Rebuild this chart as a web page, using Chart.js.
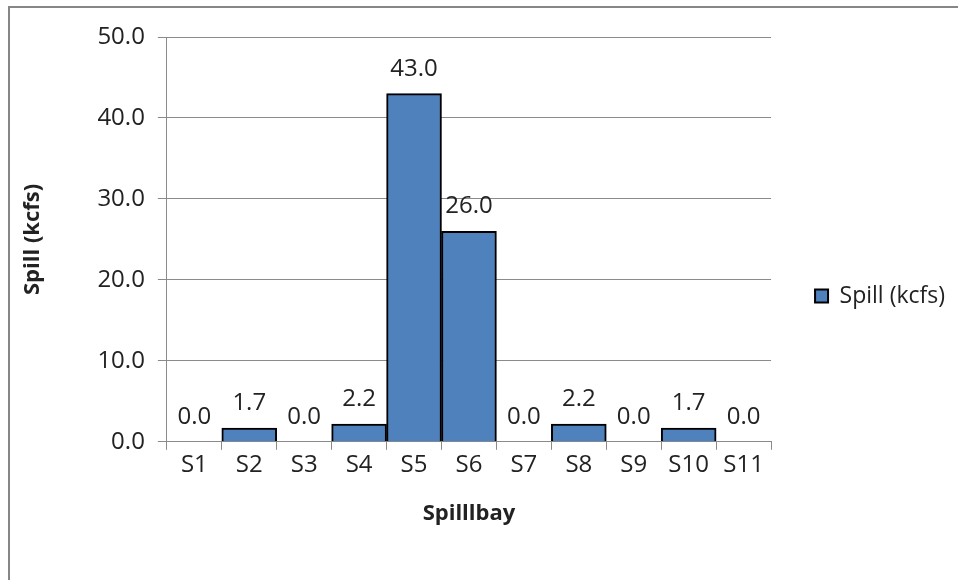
<!DOCTYPE html>
<html>
<head>
<meta charset="utf-8">
<script src="https://cdn.jsdelivr.net/npm/chart.js@4.4.0/dist/chart.umd.min.js"></script>
<style>
  html, body { margin: 0; padding: 0; background: #fff; overflow: hidden; width: 958px; height: 580px; }
  #marco { position: absolute; left: 8px; top: 6px; width: 1000px; height: 700px; border: 2px solid #868686; }
  #grafico { position: absolute; left: 0; top: 0; }
</style>
</head>
<body>
<div id="marco">
  <canvas id="grafico" width="945" height="572"></canvas>
</div>
<script>
// Datos del grafico
const etiquetas = ['S1', 'S2', 'S3', 'S4', 'S5', 'S6', 'S7', 'S8', 'S9', 'S10', 'S11'];
const derrame = [0.0, 1.7, 0.0, 2.2, 43.0, 26.0, 0.0, 2.2, 0.0, 1.7, 0.0];
const nombreSerie = 'Spill (kcfs)';
const tituloX = 'Spilllbay';
const tituloY = 'Spill (kcfs)';

const fuente = 'Open Sans';
const colorTexto = '#222';
const colorGris = '#8a8a8a';

// Plugin para etiquetas de datos sobre las barras
const etiquetasDatos = {
    id: 'etiquetasDatos',
    afterDatasetsDraw(chart) {
        const ctx = chart.ctx;
        const meta = chart.getDatasetMeta(0);
        ctx.save();
        ctx.font = '24px "' + fuente + '"';
        ctx.fillStyle = colorTexto;
        ctx.textAlign = 'center';
        ctx.textBaseline = 'alphabetic';
        meta.data.forEach(function(barra, i) {
            const valor = chart.data.datasets[0].data[i];
            ctx.fillText(valor.toFixed(1), barra.x, barra.y - 18);
        });
        ctx.restore();
    }
};

const ctx = document.getElementById('grafico').getContext('2d');
const grafico = new Chart(ctx, {
    type: 'bar',
    data: {
        labels: etiquetas,
        datasets: [{
            label: nombreSerie,
            data: derrame,
            backgroundColor: '#4F81BD',
            borderColor: '#000',
            borderWidth: 2,
            borderSkipped: 'bottom',
            barPercentage: 1,
            categoryPercentage: 1
        }]
    },
    options: {
        responsive: false,
        animation: false,
        layout: { padding: { left: 0, right: 0, top: 29, bottom: 53 } },
        plugins: {
            legend: {
                position: 'right',
                // titulo vacio solo para bajar un poco la leyenda
                title: { display: true, text: '', font: { size: 10 }, padding: { top: 8, bottom: 8 } },
                labels: {
                    boxWidth: 13,
                    boxHeight: 13,
                    padding: 44,
                    color: colorTexto,
                    font: { family: fuente, size: 23 }
                }
            },
            tooltip: { enabled: false }
        },
        scales: {
            x: {
                grid: {
                    offset: true,
                    drawOnChartArea: false,
                    color: colorGris,
                    tickLength: 8
                },
                border: { color: colorGris, width: 1 },
                ticks: {
                    color: colorTexto,
                    font: { family: fuente, size: 24 },
                    padding: 1,
                    maxRotation: 0,
                    autoSkip: false
                },
                title: {
                    display: true,
                    text: tituloX,
                    color: colorTexto,
                    font: { family: fuente, size: 22, weight: 'bold' },
                    padding: { top: 20, bottom: 0 }
                }
            },
            y: {
                min: 0,
                max: 50,
                grid: {
                    color: colorGris,
                    tickLength: 9
                },
                border: { color: colorGris, width: 1 },
                ticks: {
                    stepSize: 10,
                    color: colorTexto,
                    font: { family: fuente, size: 24 },
                    padding: 13,
                    callback: function(v) { return v.toFixed(1); }
                },
                title: {
                    display: true,
                    text: tituloY,
                    color: colorTexto,
                    font: { family: fuente, size: 22, weight: 'bold' },
                    padding: { top: 10, bottom: 38 }
                }
            }
        }
    },
    plugins: [etiquetasDatos]
});
</script>
</body>
</html>
